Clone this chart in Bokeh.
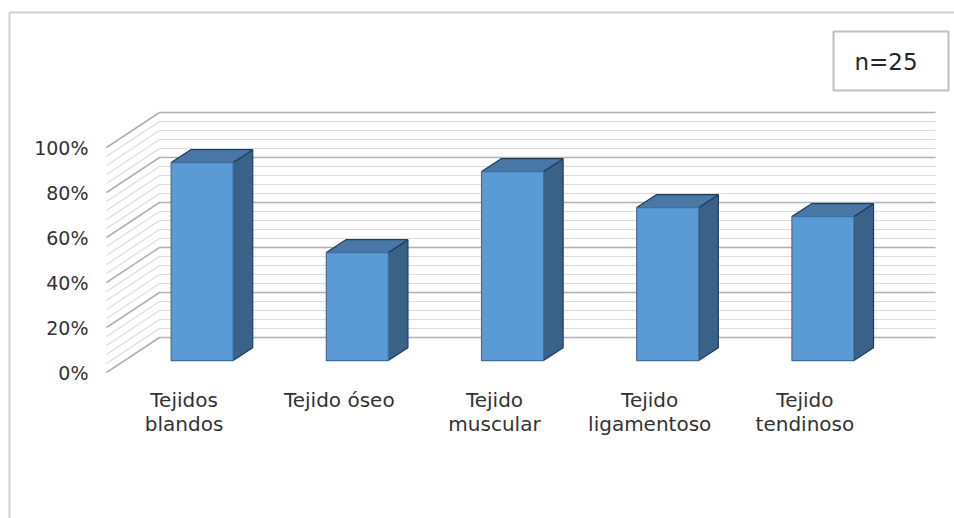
from bokeh.plotting import figure
from bokeh.models import Range1d, ColumnDataSource
from bokeh.core.properties import value
from bokeh.embed import file_html
from bokeh.resources import INLINE

# ---------------- data ----------------
categories = ["Tejidos\nblandos", "Tejido óseo", "Tejido\nmuscular",
              "Tejido\nligamentoso", "Tejido\ntendinoso"]
percentages = [88, 48, 84, 68, 64]
y_ticks = [0, 20, 40, 60, 80, 100]
y_tick_labels = ["0%", "20%", "40%", "60%", "80%", "100%"]
minor_ticks = list(range(0, 101, 4))
sample_note = "n=25"

# ---------------- layout constants (pixels) ----------------
W, H = 954, 518
UX = 155.2            # px per category unit
UY = 2.25             # px per percent
X0_PX, Y0_PX = 106, 372   # front-plane origin (left, 0%) in page px
DEPTH_DX_PX, DEPTH_DY_PX = 53, 35
BAR_T0, BAR_T1 = 0.34, 0.71   # bar depth (front -> back wall fraction)
BAR_W_PX = 62
FONT = "DejaVu Sans"
TEXT_COLOR = "#333333"


def px_x(px):
    return (px - X0_PX) / UX


def px_y(py):
    return (Y0_PX - py) / UY


DX = DEPTH_DX_PX / UX
DY = DEPTH_DY_PX / UY
BW = BAR_W_PX / UX
n = len(categories)

p = figure(width=W, height=H, output_backend="svg", toolbar_location=None,
           x_axis_type=None, y_axis_type=None,
           x_range=Range1d(px_x(0), px_x(W)), y_range=Range1d(px_y(H), px_y(0)),
           min_border=0, min_border_left=0, min_border_right=0,
           min_border_top=0, min_border_bottom=0)
p.outline_line_color = None
p.background_fill_color = "white"
p.border_fill_color = "white"

# outer chart border (top and left visible)
p.line([px_x(9), px_x(9), px_x(W + 5)], [px_y(H + 5), px_y(12), px_y(12)],
       line_color="#d0d0d0", line_width=2)

# ---------------- gridlines (side wall + back wall) ----------------
def grid_lines(vals):
    xs, ys = [], []
    for v in vals:
        xs.append([0, DX, DX + n])
        ys.append([v, v + DY, v + DY])
    return xs, ys

minor_vals = [v for v in minor_ticks if v not in y_ticks]
mx, my = grid_lines(minor_vals)
p.multi_line(mx, my, line_color="#dcdcdc", line_width=1.2)
Mx, My = grid_lines(y_ticks)
p.multi_line(Mx, My, line_color="#b0b0b0", line_width=1.5)

# ---------------- 3D bars ----------------
front_l, front_r, front_b, front_t = [], [], [], []
top_xs, top_ys, side_xs, side_ys = [], [], [], []
ddx = (BAR_T1 - BAR_T0) * DX
ddy = (BAR_T1 - BAR_T0) * DY
for i, v in enumerate(percentages):
    c = i + 0.5
    l = c - BW / 2 + BAR_T0 * DX
    r = l + BW
    b = BAR_T0 * DY
    t = v + BAR_T0 * DY
    front_l.append(l); front_r.append(r); front_b.append(b); front_t.append(t)
    top_xs.append([l, r, r + ddx, l + ddx])
    top_ys.append([t, t, t + ddy, t + ddy])
    side_xs.append([r, r, r + ddx, r + ddx])
    side_ys.append([b, t, t + ddy, b + ddy])

p.patches(side_xs, side_ys, fill_color="#3a6289", line_color="#1f3d5c", line_width=1.2)
p.patches(top_xs, top_ys, fill_color="#4a78a6", line_color="#1f3d5c", line_width=1.2)
p.quad(left=front_l, right=front_r, bottom=front_b, top=front_t,
       fill_color="#5b9bd5", line_color="#3d6f9f", line_width=1.2)

# ---------------- y tick labels (front plane) ----------------
ysrc = ColumnDataSource(dict(x=[0] * len(y_ticks), y=y_ticks, t=y_tick_labels))
p.text(x="x", y="y", text="t", source=ysrc, x_offset=-18,
       text_align="right", text_baseline="middle",
       text_font=value(FONT), text_font_size="19px", text_color=TEXT_COLOR)

# ---------------- category labels ----------------
csrc = ColumnDataSource(dict(x=[i + 0.5 for i in range(n)], y=[0] * n, t=categories))
p.text(x="x", y="y", text="t", source=csrc, y_offset=15,
       text_align="center", text_baseline="top", text_line_height=1.0,
       text_font=value(FONT), text_font_size="20px", text_color=TEXT_COLOR)

# ---------------- sample size box ----------------
p.quad(left=[px_x(833)], right=[px_x(948)], bottom=[px_y(90)], top=[px_y(31)],
       fill_color="white", line_color="#bfbfbf", line_width=2)
p.text(x=[px_x(885.5)], y=[px_y(61)], text=[sample_note],
       text_align="center", text_baseline="middle",
       text_font=value(FONT), text_font_size="23px", text_color="#262626")

open("out.html", "w").write(file_html(p, INLINE))
